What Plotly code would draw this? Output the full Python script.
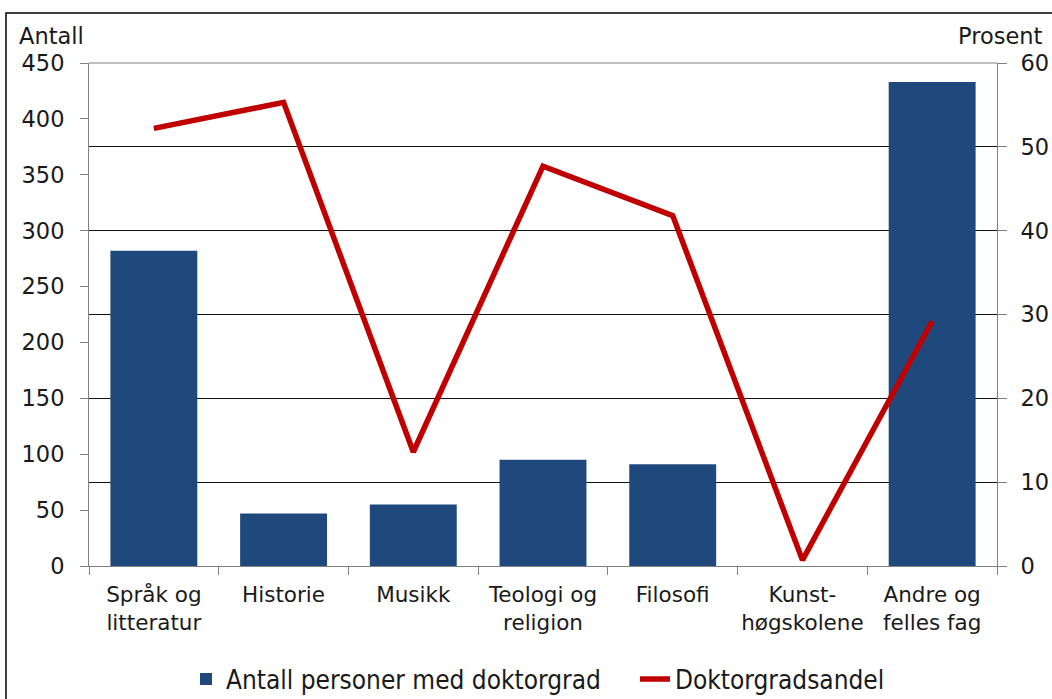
import plotly.graph_objects as go

categories = ["Språk og<br>litteratur", "Historie", "Musikk", "Teologi og<br>religion",
              "Filosofi", "Kunst-<br>høgskolene", "Andre og<br>felles fag"]
antall = [282, 47, 55, 95, 91, 0, 433]
andel = [52.2, 55.3, 13.6, 47.7, 41.8, 0.7, 29.2]

left_ticks = [0, 50, 100, 150, 200, 250, 300, 350, 400, 450]
right_ticks = [0, 10, 20, 30, 40, 50, 60]

FONT = "DejaVu Sans"
W, H = 1052, 699
L, R, T, B = 89, 997, 63, 566

fig = go.Figure()
fig.add_trace(go.Bar(x=categories, y=antall, name="Antall personer med doktorgrad",
                     marker=dict(color="#1F497D", line=dict(width=0)), yaxis="y"))
fig.add_trace(go.Scatter(x=categories, y=andel, name="Doktorgradsandel", mode="lines",
                         line=dict(color="#C00000", width=5.5), yaxis="y2"))

fig.update_layout(
    width=W, height=H,
    margin=dict(l=L, r=W - R, t=T, b=H - B, autoexpand=False),
    plot_bgcolor="white", paper_bgcolor="white",
    font=dict(family=FONT, size=21, color="#1a1a1a"),
    bargap=0.33,
    showlegend=True,
    legend=dict(orientation="h", x=(186 - L) / (R - L), xanchor="left", y=-0.178, yanchor="top",
                font=dict(size=26, family="DejaVu Sans Condensed"), tracegroupgap=0,
                entrywidth=404, entrywidthmode="pixels",
                traceorder="normal"),
    xaxis=dict(type="category", showgrid=False, showline=True, linecolor="#808080",
               linewidth=1, ticks="outside", tickson="boundaries", ticklen=8,
               tickcolor="#808080", tickfont=dict(size=21.5), ticklabelstandoff=9,
               tickangle=0),
    yaxis=dict(range=[0, 450], tickvals=left_ticks, showgrid=False, showline=True,
               linecolor="#808080", ticks="outside", ticklen=8, tickcolor="#808080",
               tickfont=dict(size=22.5), zeroline=False, ticklabelstandoff=11),
    yaxis2=dict(range=[0, 60], tickvals=right_ticks, overlaying="y", side="right",
                showgrid=True, gridcolor="#111111", gridwidth=1, showline=True,
                linecolor="#808080", ticks="outside", ticklen=9, tickcolor="#808080",
                tickfont=dict(size=22.5), zeroline=False, ticklabelstandoff=9),
    annotations=[
        dict(text="Antall", xref="paper", yref="paper", x=(17 - L) / (R - L), y=(B - 36) / (B - T),
             xanchor="left", yanchor="middle", showarrow=False, font=dict(size=22.5)),
        dict(text="Prosent", xref="paper", yref="paper", x=(1045 - L) / (R - L), y=(B - 36) / (B - T),
             xanchor="right", yanchor="middle", showarrow=False, font=dict(size=22.5)),
    ],
    shapes=[
        dict(type="line", xref="paper", yref="paper", x0=0, x1=1, y0=1, y1=1,
             line=dict(color="#808080", width=1)),
        dict(type="rect", xref="paper", yref="paper",
             x0=(6 - L) / (R - L), x1=(1080 - L) / (R - L),
             y0=(B - 720) / (B - T), y1=(B - 13) / (B - T),
             line=dict(color="black", width=1.5), fillcolor="rgba(0,0,0,0)", layer="below"),
    ],
)

fig.write_html("out.html", config={"displayModeBar": False},
               post_script="document.body.style.margin='0';")
